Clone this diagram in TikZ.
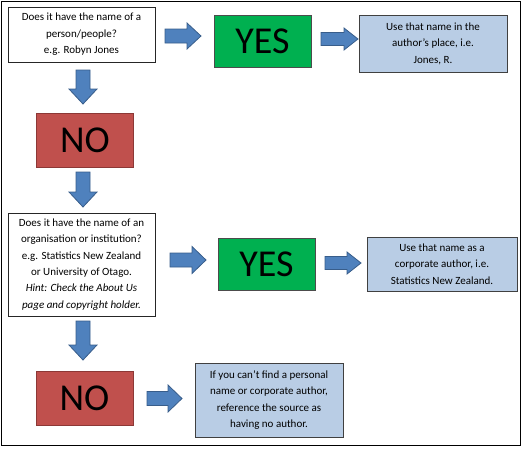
\documentclass[tikz,border=0pt]{standalone}
\usepackage{fontspec}
\setmainfont{Carlito}
\definecolor{yesgreen}{HTML}{00B050}
\definecolor{nored}{HTML}{C0504D}
\definecolor{noredline}{HTML}{8C3836}
\definecolor{lightblue}{HTML}{B9CDE5}
\definecolor{arrowblue}{HTML}{4F81BD}
\definecolor{arrowline}{HTML}{385D8A}
\newcommand{\rightblock}[5]{% x0 x1 yc headhalf shafthalf ; headlen 15
  \filldraw[blockarr] (#1,#3-#5) -- (#2-14,#3-#5) -- (#2-14,#3-#4) -- (#2,#3) -- (#2-14,#3+#4) -- (#2-14,#3+#5) -- (#1,#3+#5) -- cycle;}
\newcommand{\downblock}[5]{% y0 y1 xc headhalf shafthalf
  \filldraw[blockarr] (#3-#5,#1) -- (#3-#5,#2-15) -- (#3-#4,#2-15) -- (#3,#2) -- (#3+#4,#2-15) -- (#3+#5,#2-15) -- (#3+#5,#1) -- cycle;}
\begin{document}
\begin{tikzpicture}[x=1pt,y=-1pt,
  qbox/.style={draw=black!85,fill=white,line width=0.8pt,inner sep=0pt,align=center,font=\fontsize{11}{16.4}\selectfont},
  yesbox/.style={draw=black!70,fill=yesgreen,line width=0.8pt,inner sep=0pt,minimum width=97pt,minimum height=52pt,font=\fontsize{38}{40}\selectfont},
  nobox/.style={draw=noredline,fill=nored,line width=0.8pt,inner sep=0pt,minimum width=97pt,minimum height=54pt,font=\fontsize{38}{40}\selectfont},
  ansbox/.style={draw=black!75,fill=lightblue,line width=0.8pt,inner sep=0pt,align=center,font=\fontsize{11}{16.4}\selectfont},
  blockarr/.style={fill=arrowblue,draw=arrowline,line width=0.8pt,line join=miter}]
\useasboundingbox (0,0) rectangle (527,448);
\draw[line width=1pt] (1.5,1.5) rectangle (520,445);

\node[qbox,minimum width=147pt,minimum height=55pt] (q1) at (81.5,34.5)
  {Does it have the name of a\\person/people?\\e.g. Robyn Jones};
\node[yesbox] (y1) at (262.5,41) {YES};
\node[ansbox,minimum width=148pt,minimum height=57pt] (a1) at (433,43.5)
  {Use that name in the\\author’s place, i.e.\\Jones, R.};
\node[nobox] (n1) at (85,140.5) {NO};
\node[qbox,minimum width=147pt,minimum height=103pt] (q2) at (81.5,264.5)
  {Does it have the name of an\\organisation or institution?\\e.g. Statistics New Zealand\\or University of Otago.\\\textit{Hint: Check the About Us}\\\textit{page and copyright holder.}};
\node[yesbox] (y2) at (266.5,264) {YES};
\node[ansbox,minimum width=150pt,minimum height=54pt] (a2) at (442,264)
  {Use that name as a\\corporate author, i.e.\\Statistics New Zealand.};
\node[nobox] (n2) at (84.5,398.5) {NO};
\node[ansbox,minimum width=148pt,minimum height=74pt] (a3) at (269,400)
  {If you can’t find a personal\\name or corporate author,\\reference the source as\\having no author.};

\rightblock{165}{201}{36}{13}{7}
\rightblock{321}{358}{39}{11}{6.5}
\downblock{70}{104}{83}{14}{7}
\downblock{172}{207}{83}{14}{7}
\rightblock{170}{206}{260}{13.5}{7}
\rightblock{325}{361}{263}{11}{6.5}
\downblock{321}{360}{83}{14}{7}
\rightblock{147}{182}{398.5}{13.5}{7}
\end{tikzpicture}
\end{document}
